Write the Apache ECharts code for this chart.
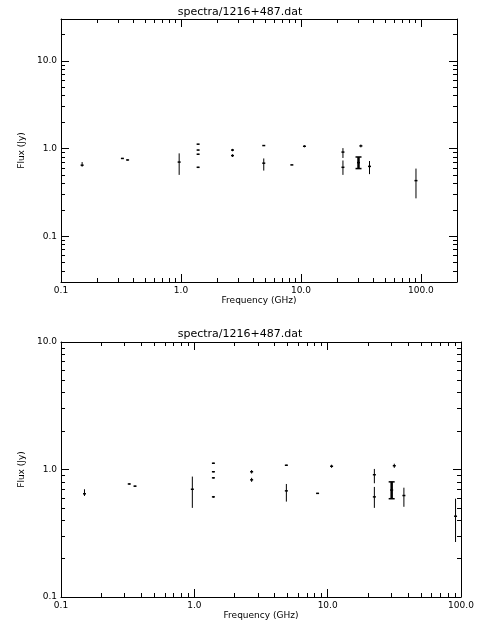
<!DOCTYPE html>
<html><head><meta charset="utf-8">
<script src="https://cdn.jsdelivr.net/npm/echarts@6/dist/echarts.min.js"></script>
<style>html,body{margin:0;background:#fff}#c{width:480px;height:640px}</style>
</head><body><div id="c"></div>
<script>
// frequency (GHz), flux (Jy), lower, upper
var freq = [0.15, 0.325, 0.359, 0.966, 1.39, 1.39, 1.39, 1.39, 2.69, 2.69, 4.9, 4.9, 8.4, 10.7, 22.4, 22.4, 31.6, 30.2, 37.3, 91];
var flux = [0.645, 0.77, 0.74, 0.70, 1.12, 0.96, 0.86, 0.61, 0.96, 0.83, 1.08, 0.68, 0.65, 1.06, 0.91, 0.61, 1.07, 0.69, 0.625, 0.43];
var fluxLo = [0.62, 0.76, 0.73, 0.50, 1.11, 0.95, 0.85, 0.60, 0.93, 0.80, 1.07, 0.56, 0.645, 1.03, 0.78, 0.50, 1.03, 0.59, 0.51, 0.27];
var fluxHi = [0.70, 0.78, 0.75, 0.88, 1.13, 0.97, 0.87, 0.62, 0.99, 0.86, 1.09, 0.77, 0.655, 1.09, 1.01, 0.73, 1.11, 0.80, 0.72, 0.59];
var thick = [17];
var title = 'spectra/1216+487.dat';

var bars = freq.map(function(f, i){ return [f, fluxLo[i], fluxHi[i], flux[i], thick.indexOf(i) >= 0 ? 1 : 0]; });
var font = 'DejaVu Sans';

function errRender(params, api){
  var lo = api.coord([api.value(0), api.value(1)]);
  var hi = api.coord([api.value(0), api.value(2)]);
  var md = api.coord([api.value(0), api.value(3)]);
  var w = api.value(4) ? 2.5 : 1;
  var ch = [
    {type:'line', shape:{x1:lo[0], y1:lo[1], x2:hi[0], y2:hi[1]}, style:{stroke:'#000', lineWidth:w}},
    {type:'line', shape:{x1:md[0]-1.5, y1:md[1], x2:md[0]+1.5, y2:md[1]}, style:{stroke:'#000', lineWidth:1.5}}
  ];
  if (api.value(4)) {
    ch.push({type:'line', shape:{x1:lo[0]-3, y1:lo[1], x2:lo[0]+3, y2:lo[1]}, style:{stroke:'#000', lineWidth:1.5}});
    ch.push({type:'line', shape:{x1:hi[0]-3, y1:hi[1], x2:hi[0]+3, y2:hi[1]}, style:{stroke:'#000', lineWidth:1.5}});
  }
  return {type:'group', children:ch};
}

function decade(v){
  var l = Math.log10(v);
  return Math.abs(l - Math.round(l)) < 1e-6 ? v.toFixed(1) : '';
}

function ax(idx, min, max, pos, name, gap, labels){
  return {type:'log', gridIndex:idx, min:min, max:max, position:pos,
    name:labels ? name : '', nameLocation:'middle', nameGap:gap,
    nameTextStyle:{color:'#000', fontSize:9, fontFamily:font},
    axisLine:{onZero:false, lineStyle:{color:'#000'}}, axisTick:{inside:true, length:8, lineStyle:{color:'#000'}},
    minorTick:{show:true, splitNumber:9, length:4, lineStyle:{color:'#000'}},
    axisLabel:{show:labels, color:'#000', fontSize:9, fontFamily:font, margin:4,
      showMinLabel:true, showMaxLabel:true, formatter:decade},
    splitLine:{show:false}};
}

var chart = echarts.init(document.getElementById('c'));
chart.setOption({
  backgroundColor:'#fff',
  animation:false,
  title:[
    {text:title, left:'center', top:2, textStyle:{fontSize:11, fontWeight:'normal', color:'#000', fontFamily:font}},
    {text:title, left:'center', top:324, textStyle:{fontSize:11, fontWeight:'normal', color:'#000', fontFamily:font}}
  ],
  grid:[
    {left:61, right:23, top:19, height:263},
    {left:61, right:19, top:342, height:255}
  ],
  xAxis:[
    ax(0, 0.1, 200, 'bottom', 'Frequency (GHz)', 14, true),
    ax(0, 0.1, 200, 'top', '', 0, false),
    ax(1, 0.1, 100, 'bottom', 'Frequency (GHz)', 14, true),
    ax(1, 0.1, 100, 'top', '', 0, false)
  ],
  yAxis:[
    ax(0, 0.03, 30, 'left', 'Flux (Jy)', 30, true),
    ax(0, 0.03, 30, 'right', '', 0, false),
    ax(1, 0.1, 10, 'left', 'Flux (Jy)', 30, true),
    ax(1, 0.1, 10, 'right', '', 0, false)
  ],
  series:[
    {type:'custom', xAxisIndex:0, yAxisIndex:0, data:bars, renderItem:errRender, encode:{x:0, y:[1,2]}},
    {type:'custom', xAxisIndex:2, yAxisIndex:2, data:bars, renderItem:errRender, encode:{x:0, y:[1,2]}}
  ]
});
</script></body></html>
